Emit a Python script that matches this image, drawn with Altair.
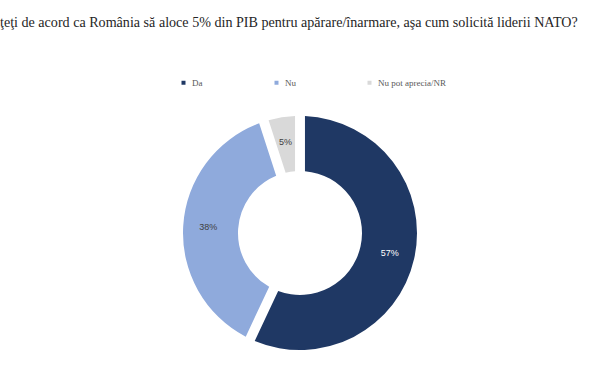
import altair as alt
import pandas as pd

categories = ["Da", "Nu", "Nu pot aprecia/NR"]
values = [57, 38, 5]
labels = ["57%", "38%", "5%"]
order = [1, 2, 3]
colors = ["#1F3864", "#8FAADC", "#D9D9D9"]
label_colors = ["#FFFFFF", "#404040", "#404040"]

title_text = "ţeţi de acord ca România să aloce 5% din PIB pentru apărare/înarmare, aşa cum solicită liderii NATO?"

df = pd.DataFrame({
    "cat": categories,
    "val": values,
    "lab": labels,
    "ord": order,
    "lc": label_colors,
})

base = alt.Chart(df).encode(
    theta=alt.Theta("val:Q", stack=True),
    order=alt.Order("ord:Q", sort="ascending"),
)

arcs = base.mark_arc(outerRadius=117, innerRadius=62, padAngle=0.075).encode(
    color=alt.Color(
        "cat:N",
        scale=alt.Scale(domain=categories, range=colors),
        legend=alt.Legend(
            title=None,
            orient="none",
            legendX=179,
            legendY=-13,
            direction="horizontal",
            columns=3,
            gridAlign="all",
            symbolType="square",
            symbolSize=16,
            symbolStrokeWidth=0,
            labelFont="Liberation Serif",
            labelFontSize=9,
            labelColor="#595959",
            labelOffset=4,
            columnPadding=12,
        ),
    )
)

text = base.mark_text(radius=92, font="Liberation Sans", fontSize=9).encode(
    text="lab:N",
    color=alt.Color("lc:N", scale=None),
)

chart = (
    alt.layer(arcs, text)
    .properties(
        width=600,
        height=284,
        padding={"top": 91, "left": 0, "right": 0, "bottom": 0},
        autosize=alt.AutoSizeParams(type="none"),
        title=alt.TitleParams(
            text=title_text,
            anchor="start",
            frame="group",
            orient="top",
            baseline="alphabetic",
            offset=37,
            dx=0,
            font="Liberation Serif",
            fontSize=14.1,
            fontWeight="normal",
            color="#262626",
        ),
    )
    .configure_view(stroke=None)
    .configure(background="white")
)

chart.save("out.html", embed_options={"renderer": "svg", "actions": False})
